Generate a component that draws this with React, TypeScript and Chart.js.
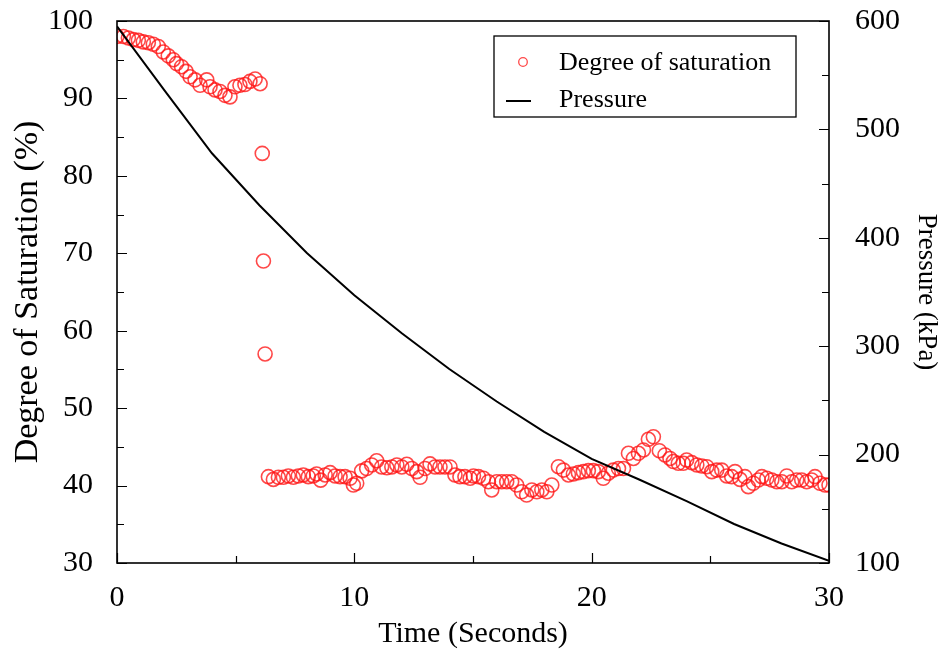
import React, { useEffect, useRef } from "react";
import { Chart, registerables } from "chart.js";

Chart.register(...registerables);

// Degree of saturation samples (time in seconds, saturation in %)
const timeSec = [
  0.0, 0.27, 0.48, 0.69, 0.9, 1.11, 1.32, 1.53, 1.74, 1.95, 2.16, 2.37, 2.51, 2.72, 2.91, 3.08, 3.29, 3.5, 3.78, 3.92,
  4.13, 4.34, 4.55, 4.76, 4.97, 5.18, 5.39, 5.6, 5.82, 6.03, 6.12, 6.17, 6.24,
  6.38, 6.59, 6.8, 7.01, 7.22, 7.43, 7.64, 7.85, 8.06, 8.27, 8.41, 8.58, 8.77, 8.98, 9.19, 9.4, 9.61, 9.82, 9.96,
  10.1, 10.31, 10.52, 10.73, 10.94, 11.15, 11.37, 11.58, 11.79, 12.0, 12.21, 12.42, 12.63, 12.77, 12.98, 13.19,
  13.4, 13.61, 13.82, 14.03, 14.24, 14.45, 14.66, 14.88,
  15.02, 15.23, 15.44, 15.65, 15.79, 16.0, 16.21, 16.42, 16.63, 16.84, 17.05, 17.26, 17.48, 17.69, 17.9, 18.11,
  18.32, 18.6, 18.81, 19.02, 19.23, 19.44, 19.65, 19.86, 20.07, 20.28, 20.49, 20.7, 20.91, 21.13, 21.34, 21.55,
  21.76, 21.97, 22.18, 22.39, 22.6, 22.85,
  23.09, 23.3, 23.44, 23.65, 23.86, 24.0, 24.22, 24.43, 24.64, 24.85, 25.06, 25.27, 25.48, 25.69, 25.9, 26.04,
  26.25, 26.46, 26.6, 26.81, 27.02, 27.17, 27.38, 27.59, 27.8, 28.01, 28.22, 28.43, 28.64, 28.85, 29.06, 29.27,
  29.41, 29.62, 29.83, 30.0,
];
const saturation = [
  98.0, 98.0, 97.8, 97.6, 97.5, 97.3, 97.2, 97.0, 96.7, 96.0, 95.5, 95.0, 94.5, 94.1, 93.5, 92.8, 92.4, 91.7, 92.4, 91.5,
  91.1, 90.9, 90.4, 90.2, 91.5, 91.7, 91.8, 92.2, 92.5, 91.9, 82.9, 69.0, 57.0,
  41.15, 40.8, 41.07, 41.07, 41.24, 41.07, 41.24, 41.37, 41.15, 41.24, 41.5, 40.7, 41.37, 41.67, 41.24, 41.15, 41.15, 40.94, 40.07,
  40.3, 41.9, 42.2, 42.66, 43.2, 42.4, 42.3, 42.4, 42.66, 42.4, 42.75, 42.2, 41.8, 41.07, 42.2, 42.8,
  42.4, 42.4, 42.4, 42.4, 41.37, 41.15, 41.15, 40.94,
  41.24, 41.15, 40.94, 40.5, 39.43, 40.5, 40.5, 40.5, 40.5, 40.07, 39.2, 38.78, 39.43, 39.2, 39.43, 39.2,
  40.07, 42.44, 42.0, 41.37, 41.5, 41.67, 41.8, 41.93, 41.93, 41.8, 40.94, 41.6, 42.0, 42.2, 42.2, 44.17,
  43.5, 44.17, 44.6, 45.98, 46.3, 44.5,
  43.95, 43.5, 43.1, 42.88, 42.88, 43.3, 42.96, 42.66, 42.53, 42.44, 41.8, 42.0, 42.0, 41.24, 41.15, 41.8,
  40.8, 41.15, 39.86, 40.3, 40.72, 41.15, 40.94, 40.72, 40.5, 40.5, 41.24, 40.5, 40.72, 40.72, 40.5, 40.72,
  41.15, 40.3, 40.07, 40.07,
];

// Pressure curve (time in seconds, pressure in kPa)
const pressureTime = [0, 2, 4, 6, 8, 10, 12, 14, 16, 18, 20, 22, 24, 26, 28, 30];
const pressureKPa = [595, 536, 478, 430, 386, 347, 312, 279, 249, 221, 196, 177, 157, 136, 118, 102];

// Axis ranges / ticks
const xRange = [0, 30];
const xStep = 10;
const satRange = [30, 100];
const satStep = 10;
const pressureRange = [100, 600];
const pressureStep = 100;

const seriesNames = ["Degree of saturation", "Pressure"];
const axisTitles = ["Time (Seconds)", "Degree of Saturation (%)", "Pressure (kPa)"];

const FONT = "'Liberation Serif', 'Times New Roman', serif";
const RED = "rgba(255, 20, 20, 0.78)";

const framePlugin = {
  id: "frameTicks",
  afterDatasetsDraw(chart: any) {
    const { ctx, chartArea: a, scales } = chart;
    ctx.save();
    ctx.strokeStyle = "#000";
    ctx.lineWidth = 1.2;
    ctx.beginPath();
    for (let v = xRange[0]; v <= xRange[1]; v += xStep / 2) {
      const x = Math.round(scales.x.getPixelForValue(v)) + 0.5;
      const L = v % xStep === 0 ? 10 : 7;
      ctx.moveTo(x, a.bottom);
      ctx.lineTo(x, a.bottom - L);
    }
    for (let v = satRange[0]; v <= satRange[1]; v += satStep / 2) {
      const y = Math.round(scales.y.getPixelForValue(v)) + 0.5;
      const L = v % satStep === 0 ? 10 : 7;
      ctx.moveTo(a.left, y);
      ctx.lineTo(a.left + L, y);
    }
    for (let v = pressureRange[0]; v <= pressureRange[1]; v += pressureStep / 2) {
      const y = Math.round(scales.y1.getPixelForValue(v)) + 0.5;
      const L = v % pressureStep === 0 ? 10 : 7;
      ctx.moveTo(a.right, y);
      ctx.lineTo(a.right - L, y);
    }
    ctx.stroke();
    ctx.lineWidth = 1.6;
    ctx.strokeRect(a.left, a.top, a.right - a.left, a.bottom - a.top);
    ctx.restore();
  },
};

const legendPlugin = {
  id: "boxLegend",
  afterDraw(chart: any) {
    const { ctx, chartArea: a } = chart;
    const left = a.left + 377;
    const top = a.top + 15;
    ctx.save();
    ctx.fillStyle = "#fff";
    ctx.fillRect(left, top, 302, 81);
    ctx.strokeStyle = "#000";
    ctx.lineWidth = 1.3;
    ctx.strokeRect(left, top, 302, 81);
    ctx.strokeStyle = RED;
    ctx.lineWidth = 1.3;
    ctx.beginPath();
    ctx.arc(left + 29, top + 26, 4.3, 0, Math.PI * 2);
    ctx.stroke();
    ctx.strokeStyle = "#000";
    ctx.lineWidth = 2;
    ctx.beginPath();
    ctx.moveTo(left + 12, top + 65);
    ctx.lineTo(left + 37, top + 65);
    ctx.stroke();
    ctx.fillStyle = "#000";
    ctx.font = `26px ${FONT}`;
    ctx.textBaseline = "middle";
    ctx.textAlign = "left";
    ctx.fillText(seriesNames[0], left + 65, top + 27);
    ctx.fillText(seriesNames[1], left + 65, top + 64);
    ctx.restore();
  },
};

export default function App() {
  const ref = useRef<HTMLCanvasElement | null>(null);

  useEffect(() => {
    if (!ref.current) return;
    const satPoints = timeSec.map((t, i) => ({ x: t, y: saturation[i] }));
    const presPoints = pressureTime.map((t, i) => ({ x: t, y: pressureKPa[i] }));
    const tickFont = { family: FONT, size: 30 };
    const chart = new Chart(ref.current, {
      type: "scatter",
      data: {
        datasets: [
          {
            label: seriesNames[1],
            data: presPoints,
            yAxisID: "y1",
            showLine: true,
            borderColor: "#000",
            backgroundColor: "#000",
            borderWidth: 2,
            pointRadius: 0,
            tension: 0,
            order: 0,
          } as any,
          {
            label: seriesNames[0],
            data: satPoints,
            yAxisID: "y",
            showLine: false,
            pointRadius: 7,
            pointBorderWidth: 1.6,
            borderColor: RED,
            backgroundColor: "rgba(0,0,0,0)",
            pointStyle: "circle",
            order: 1,
          } as any,
        ],
      },
      options: {
        animation: false,
        responsive: false,
        devicePixelRatio: 1,
        layout: { padding: { top: 21, left: 0, right: 0, bottom: 0 } },
        plugins: { legend: { display: false }, tooltip: { enabled: false } },
        scales: {
          x: {
            type: "linear",
            min: xRange[0],
            max: xRange[1],
            grid: { display: false, drawTicks: false },
            border: { display: false },
            ticks: { stepSize: xStep, color: "#000", font: tickFont, padding: 17 },
            title: {
              display: true,
              text: axisTitles[0],
              color: "#000",
              font: { family: FONT, size: 30, lineHeight: 1 },
              padding: 0,
            },
            afterFit: (s: any) => {
              s.height = 86;
              s.paddingLeft = 0;
              s.paddingRight = 0;
            },
          },
          y: {
            type: "linear",
            position: "left",
            min: satRange[0],
            max: satRange[1],
            grid: { display: false, drawTicks: false },
            border: { display: false },
            ticks: { stepSize: satStep, color: "#000", font: tickFont, padding: 24 },
            title: {
              display: true,
              text: axisTitles[1],
              color: "#000",
              font: { family: FONT, size: 34, lineHeight: 1 },
              padding: { top: 11, bottom: 0 },
            },
            afterFit: (s: any) => {
              s.width = 117;
              s.paddingTop = 0;
              s.paddingBottom = 0;
            },
          },
          y1: {
            type: "linear",
            position: "right",
            min: pressureRange[0],
            max: pressureRange[1],
            grid: { display: false, drawTicks: false },
            border: { display: false },
            ticks: { stepSize: pressureStep, color: "#000", font: tickFont, padding: 26 },
            title: {
              display: true,
              text: axisTitles[2],
              color: "#000",
              font: { family: FONT, size: 27, lineHeight: 1 },
              padding: { top: 3, bottom: 0 },
            },
            afterFit: (s: any) => {
              s.width = 114;
              s.paddingTop = 0;
              s.paddingBottom = 0;
            },
          },
        },
      },
      plugins: [framePlugin, legendPlugin],
    } as any);
    return () => chart.destroy();
  }, []);

  return (
    <div style={{ position: "fixed", left: 0, top: 0, width: 943, height: 649, background: "#fff" }}>
      <canvas ref={ref} width={943} height={649} style={{ display: "block" }} />
    </div>
  );
}
